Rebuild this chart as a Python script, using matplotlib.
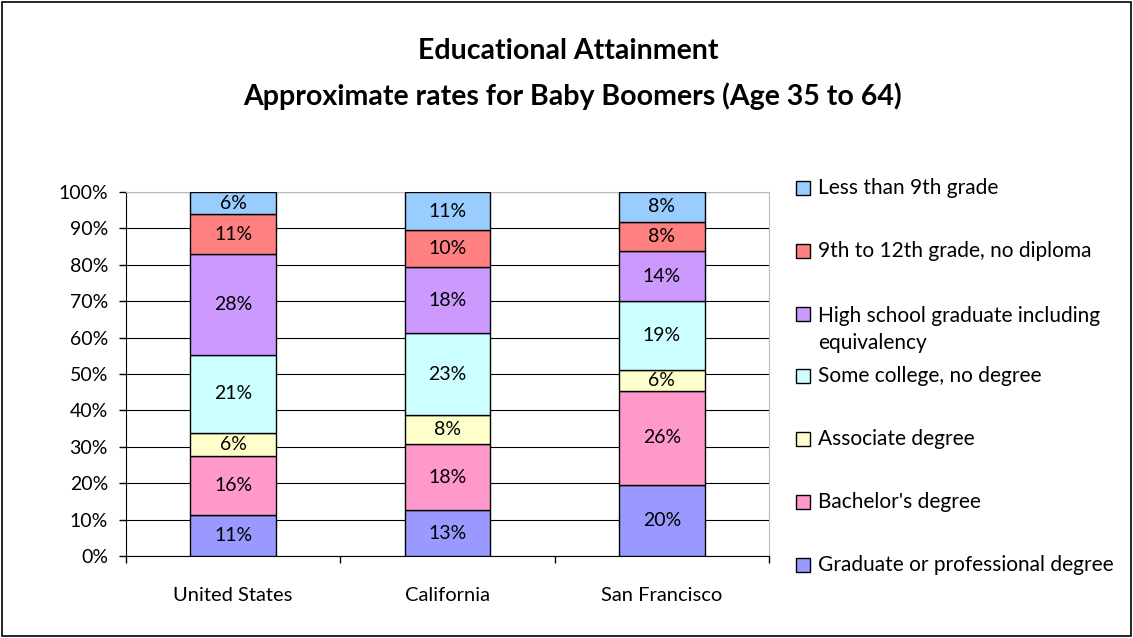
import numpy as np
import matplotlib; matplotlib.use("Agg")
import matplotlib.pyplot as plt
from matplotlib.patches import Rectangle

places = ['United States', 'California', 'San Francisco']
levels = ['Graduate or professional degree', "Bachelor's degree", 'Associate degree',
          'Some college, no degree', 'High school graduate including\nequivalency',
          '9th to 12th grade, no diploma', 'Less than 9th grade']
grad      = [11.4, 12.6, 19.6]
bachelor  = [16.1, 18.2, 25.8]
associate = [6.4, 7.8, 5.8]
some_coll = [21.4, 22.7, 18.8]
highschool= [27.7, 18.0, 13.7]
no_diploma= [10.9, 10.2, 8.1]
less_9th  = [6.1, 10.5, 8.2]
shown = [[11, 13, 20], [16, 18, 26], [6, 8, 6], [21, 23, 19], [28, 18, 14], [11, 10, 8], [6, 11, 8]]
colors = ['#9999FF', '#FF99CC', '#FFFFCC', '#CCFFFF', '#CC99FF', '#FF8080', '#99CCFF']

plt.rcParams['font.family'] = ['Lato', 'DejaVu Sans']
W, H = 1133, 638
fig = plt.figure(figsize=(W / 100, H / 100), dpi=100)
fig.patches.append(Rectangle((0.002, 0.003), 0.996, 0.994, transform=fig.transFigure,
                             fill=False, edgecolor='black', lw=1.2))
ax = fig.add_axes([126 / W, 1 - 556 / H, (769 - 126) / W, (556 - 192) / H])

series = [grad, bachelor, associate, some_coll, highschool, no_diploma, less_9th]
x = np.arange(len(places))
bottom = np.zeros(len(places))
for vals, col, txt in zip(series, colors, shown):
    v = np.array(vals)
    ax.bar(x, v, 0.4, bottom=bottom, color=col, edgecolor='black', lw=1, zorder=3)
    for xi, yi, vi, t in zip(x, bottom, v, txt):
        ax.text(xi, yi + vi / 2, f'{t}%', ha='center', va='center', fontsize=14, zorder=4)
    bottom += v

ax.set_xlim(-0.5, 2.5)
ax.set_ylim(0, 100)
ax.set_yticks(np.arange(0, 101, 10))
ax.set_yticklabels([f'{t}%' for t in range(0, 101, 10)], fontsize=14)
ax.yaxis.grid(True, color='black', lw=0.8, zorder=0)
ax.set_xticks(x)
ax.set_xticklabels(places, fontsize=14.5)
ax.set_xticks([-0.5, 0.5, 1.5, 2.5], minor=True)
ax.tick_params(axis='x', which='major', length=0, pad=22)
ax.tick_params(axis='x', which='minor', length=5, width=1, direction='out')
ax.tick_params(axis='y', length=5, width=1, direction='out', pad=8)
for s in ['top', 'right']:
    ax.spines[s].set_color('#BBBBBB')
for s in ['left', 'bottom']:
    ax.spines[s].set_color('black')

fig.text(568 / W, 1 - 51 / H, 'Educational Attainment', ha='center', va='center',
         fontsize=20.5, fontweight='bold')
fig.text(572 / W, 1 - 96 / H, 'Approximate rates for Baby Boomers (Age 35 to 64)', ha='center',
         va='center', fontsize=20.5, fontweight='bold')

# legend, top entry first, slots about 63 px apart (two-line label runs into the gap)
for i, (lab, col) in enumerate(zip(levels[::-1], colors[::-1])):
    yc = 188 + 62.8 * i
    fig.patches.append(Rectangle((796 / W, 1 - (yc + 7) / H), 14 / W, 14 / H, transform=fig.transFigure,
                                 facecolor=col, edgecolor='black', lw=1))
    nl = lab.count('\n')
    fig.text(818 / W, 1 - (yc + 15.5 * nl) / H, lab, ha='left', va='center', fontsize=15,
             linespacing=1.45)

fig.savefig('out.png', dpi=100)
